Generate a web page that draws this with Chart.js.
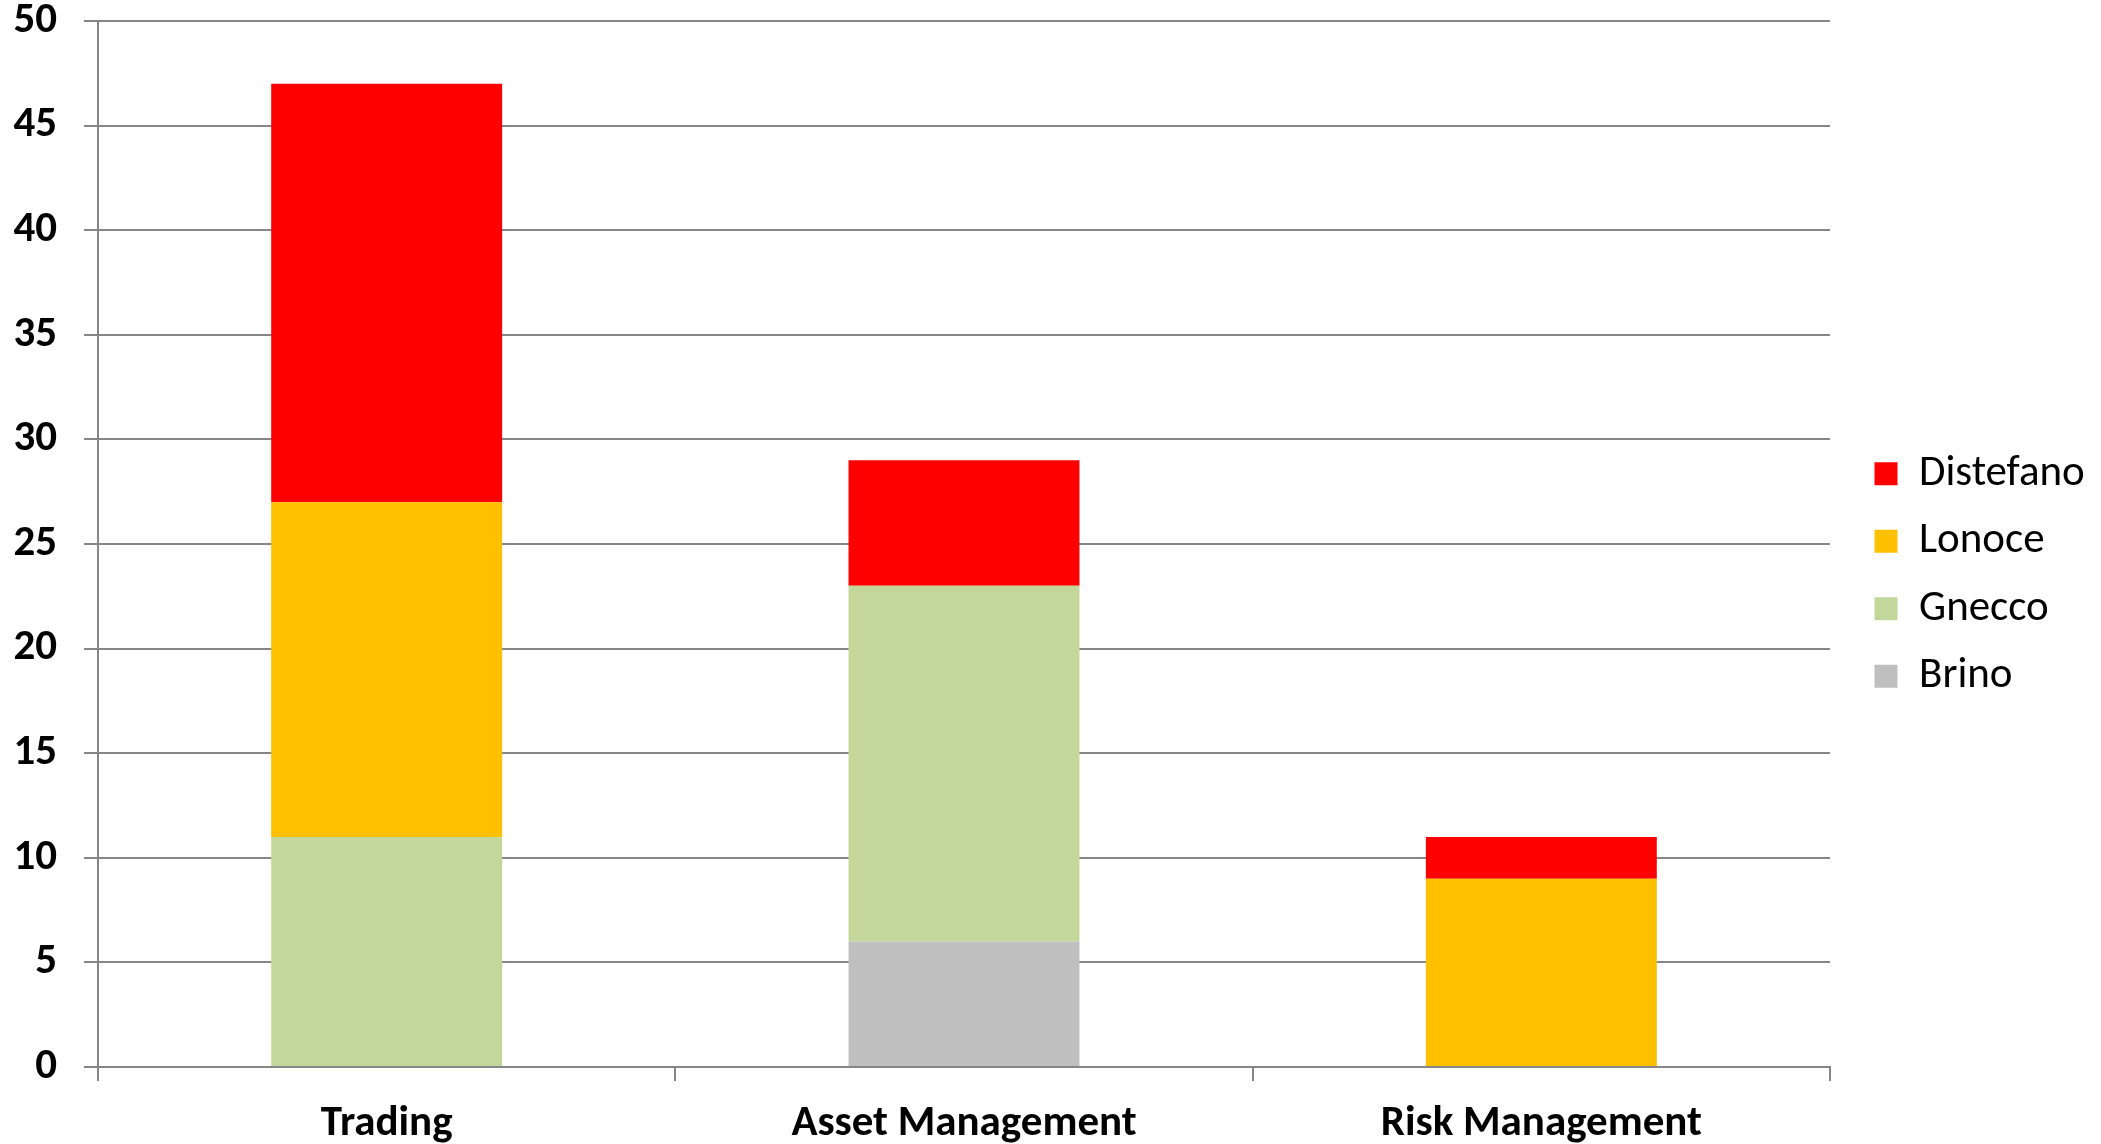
<!DOCTYPE html>
<html>
<head>
<meta charset="utf-8">
<script src="https://cdn.jsdelivr.net/npm/chart.js@4.4.0/dist/chart.umd.min.js"></script>
<style>
  html, body { margin: 0; padding: 0; background: #ffffff; }
  #wrap { width: 2101px; height: 1144px; }
</style>
</head>
<body>
<div id="wrap"><canvas id="myChart"></canvas></div>
<script>
const categories = ['Trading', 'Asset Management', 'Risk Management'];

// stacked bottom to top: Brino, Gnecco, Lonoce, Distefano
const brino     = [0, 6, 0];
const gnecco    = [11, 17, 0];
const lonoce    = [16, 0, 9];
const distefano = [20, 6, 2];

const gridColor = '#868686';
const fontFamily = 'Carlito, Calibri, Lato, sans-serif';

// keep the legend to a fixed width and nudge its items, like the original
const legendFix = {
    id: 'legendFix',
    beforeLayout(chart) {
        const lg = chart.legend;
        if (lg && !lg._fixed) {
            const origFit = lg.fit.bind(lg);
            lg.fit = function () { origFit(); this.width = 271; };
            const origDraw = lg.draw.bind(lg);
            lg.draw = function () {
                const l = this.left, t = this.top, b = this.bottom;
                this.left = l + 20;
                this.top = t + 3;
                this.bottom = b + 3;
                origDraw();
                this.left = l;
                this.top = t;
                this.bottom = b;
            };
            lg._fixed = true;
        }
    }
};

const ctx = document.getElementById('myChart').getContext('2d');

new Chart(ctx, {
    type: 'bar',
    data: {
        labels: categories,
        datasets: [
            { label: 'Brino',     data: brino,     backgroundColor: '#BFBFBF' },
            { label: 'Gnecco',    data: gnecco,    backgroundColor: '#C4D79B' },
            { label: 'Lonoce',    data: lonoce,    backgroundColor: '#FFC000' },
            { label: 'Distefano', data: distefano, backgroundColor: '#FF0000' }
        ]
    },
    options: {
        responsive: true,
        maintainAspectRatio: false,
        animation: false,
        layout: {
            padding: 0
        },
        datasets: {
            bar: {
                categoryPercentage: 1.0,
                barPercentage: 0.4,
                borderWidth: 0
            }
        },
        scales: {
            x: {
                stacked: true,
                grid: {
                    drawOnChartArea: false,
                    drawTicks: true,
                    tickLength: 14,
                    color: gridColor,
                    lineWidth: 2
                },
                border: { color: gridColor, width: 2 },
                ticks: {
                    color: '#000000',
                    padding: 17,
                    font: { family: fontFamily, size: 43, weight: 'bold' }
                },
                afterFit(scale) {
                    scale.height = 77;
                    scale.paddingLeft = 0;
                    scale.paddingRight = 0;
                }
            },
            y: {
                stacked: true,
                min: 0,
                max: 50,
                grid: {
                    tickLength: 14,
                    color: gridColor,
                    lineWidth: 2
                },
                border: { color: gridColor, width: 2 },
                ticks: {
                    stepSize: 5,
                    color: '#000000',
                    padding: 27,
                    font: { family: fontFamily, size: 43, weight: 'bold', lineHeight: 1.0 }
                },
                afterFit(scale) {
                    scale.width = 98;
                    scale.paddingTop = 21;
                    scale.paddingBottom = 0;
                }
            }
        },
        plugins: {
            legend: {
                position: 'right',
                reverse: true,
                labels: {
                    boxWidth: 23,
                    boxHeight: 23,
                    padding: 24.5,
                    color: '#000000',
                    font: { family: fontFamily, size: 43 }
                }
            },
            tooltip: { enabled: false }
        }
    },
    plugins: [legendFix]
});
</script>
</body>
</html>
